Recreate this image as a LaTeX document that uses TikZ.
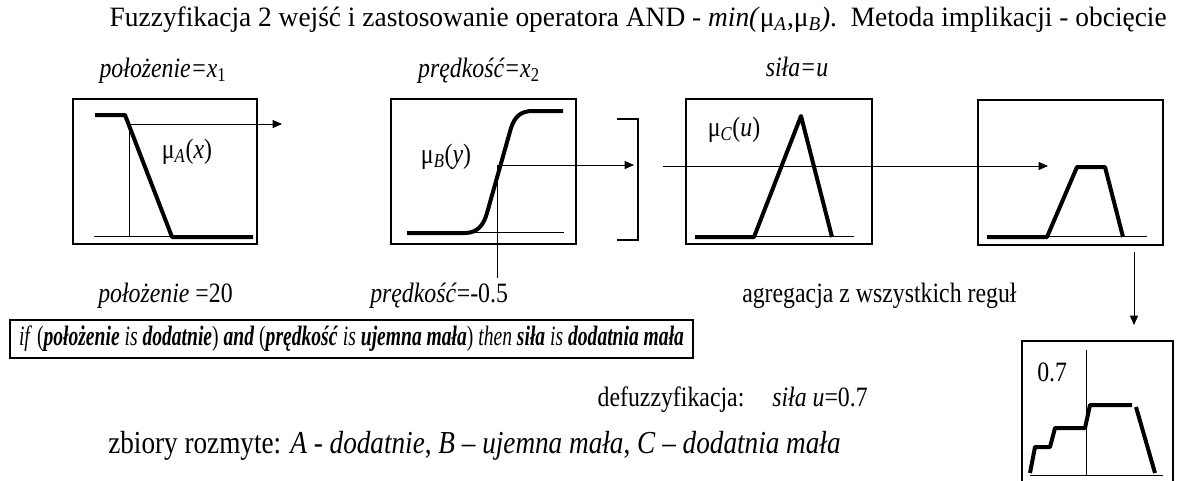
\documentclass[tikz,border=0pt]{standalone}
\usepackage{fontspec}
\setmainfont{Liberation Serif}[FakeStretch=0.85]
\usetikzlibrary{arrows.meta}
\newlength\px
\setlength\px{0.75pt}
\newcommand\sub[1]{\textsubscript{#1}}
\tikzset{
  >={Triangle[length=7pt,width=6pt]},
  lbl/.style={font=\fontsize{21}{23}\selectfont,inner sep=0pt},
  panel/.style={draw,line width=1.1pt,inner sep=0pt},
  mf/.style={line width=3pt,line join=round},
  fine/.style={line width=0.6pt},
  arr/.style={fine,->},
}
\begin{document}
\begin{tikzpicture}[x=\px,y=-\px]
  \useasboundingbox (0,0) rectangle (1177,480);
  % title and axis names
  \node[lbl,anchor=base east] (title) at (1167,26) {\resizebox{1057\px}{\height}{Fuzzyfikacja 2 wejść i zastosowanie operatora AND - \textit{min(}μ\sub{\textit{A}},μ\sub{\textit{B}}\textit{)}.\ \ Metoda implikacji - obcięcie}};
  \node[lbl,anchor=base] (nA) at (163,77) {\textit{położenie=x}\sub{1}};
  \node[lbl,anchor=base] (nB) at (479,77) {\textit{prędkość=x}\sub{2}};
  \node[lbl,anchor=base] (nC) at (797,76) {\textit{siła=u}};
  % panels
  \node[panel,minimum width=184\px,minimum height=145\px] (boxA) at (165,171.5) {};
  \node[panel,minimum width=185\px,minimum height=145\px] (boxB) at (483.5,171.5) {};
  \node[panel,minimum width=186\px,minimum height=145\px] (boxC) at (779,171.5) {};
  \node[panel,minimum width=185\px,minimum height=145\px] (boxD) at (1070.5,172.5) {};
  \node[panel,minimum width=151\px,minimum height=160\px] (boxE) at (1097.5,421) {};
  % membership functions
  \draw[fine] (94,236) -- (253,236);
  \draw[mf] (95,115) -- (125,115) -- (172,237) -- (253,237);
  \node[lbl] (muA) at (187,152) {μ\sub{\textit{A}}(\textit{x})};
  \draw[fine] (470,232) -- (564,232);
  \draw[mf] (407,233) -- (465,233) .. controls (478,233) and (484,224) .. (487,213)
    -- (511,128) .. controls (515,116) and (521,111) .. (533,111) -- (563,111);
  \node[lbl] (muB) at (446,157) {μ\sub{\textit{B}}(\textit{y})};
  \draw[fine] (754,236) -- (854,236);
  \draw[mf] (695,237) -- (754,237) -- (801,116) -- (832,237);
  \node[lbl] (muC) at (734,130) {μ\sub{\textit{C}}(\textit{u})};
  \draw[fine] (1047,236) -- (1147,236);
  \draw[mf] (987,237) -- (1047,237) -- (1077,167) -- (1105,167) -- (1123,237);
  % bracket
  \draw[line width=1.5pt] (617,119) -- (638,119) -- (638,240) -- (617,240);
  % connectors
  \coordinate (a0) at (129,236); \coordinate (a1) at (129,124); \coordinate (a2) at (282,124);
  \draw[fine] (a0) -- (a1); \draw[arr] (a1) -- (a2);
  \coordinate (b0) at (497,278); \coordinate (b1) at (497,165); \coordinate (b2) at (634,165);
  \draw[fine] (b0) -- (b1); \draw[arr] (b1) -- (b2);
  \coordinate (c1) at (663,166); \coordinate (c2) at (1048,166);
  \draw[arr] (c1) -- (c2);
  \coordinate (d1) at (1134,252); \coordinate (d2) at (1134,325);
  \draw[arr] (d1) -- (d2);
  % aggregated result
  \draw[fine] (1030,475) -- (1163,475);
  \draw[fine] (1086,350) -- (1086,475);
  \draw[mf] (1030,473) -- (1035,447) -- (1050,447) -- (1055,428) -- (1085,428) -- (1090,405) -- (1132,405);
  \draw[mf] (1136,407) -- (1155,473);
  \node[lbl,anchor=base west] (res) at (1037,381) {0.7};
  % texts below
  \node[lbl,anchor=base west] (vA) at (98,302) {\textit{położenie} =20};
  \node[lbl,anchor=base west] (vB) at (370,302) {\textit{prędkość}=-0.5};
  \node[lbl,anchor=base west] (agg) at (742,302) {agregacja z wszystkich reguł};
  \node[draw,line width=0.8pt,minimum width=683\px,minimum height=38\px,inner sep=0pt,lbl] (rule) at (351.5,339)
    {\resizebox{665\px}{\height}{\textit{if} (\textbf{\textit{położenie}} \textit{is} \textbf{\textit{dodatnie}}) \textbf{\textit{and}} (\textbf{\textit{prędkość}} \textit{is} \textbf{\textit{ujemna mała}}) \textit{then} \textbf{\textit{siła}} \textit{is} \textbf{\textit{dodatnia mała}}}};
  \node[lbl,anchor=base east] (defuzz) at (868,406) {defuzzyfikacja:\hspace{28\px}\textit{siła u}=0.7};
  \node[lbl,font=\fontsize{24}{26}\selectfont,anchor=base west] (sets) at (108,453) {zbiory rozmyte: \textit{A} - \textit{dodatnie}, \textit{B} – \textit{ujemna mała}, \textit{C} – \textit{dodatnia mała}};
\end{tikzpicture}
\end{document}
